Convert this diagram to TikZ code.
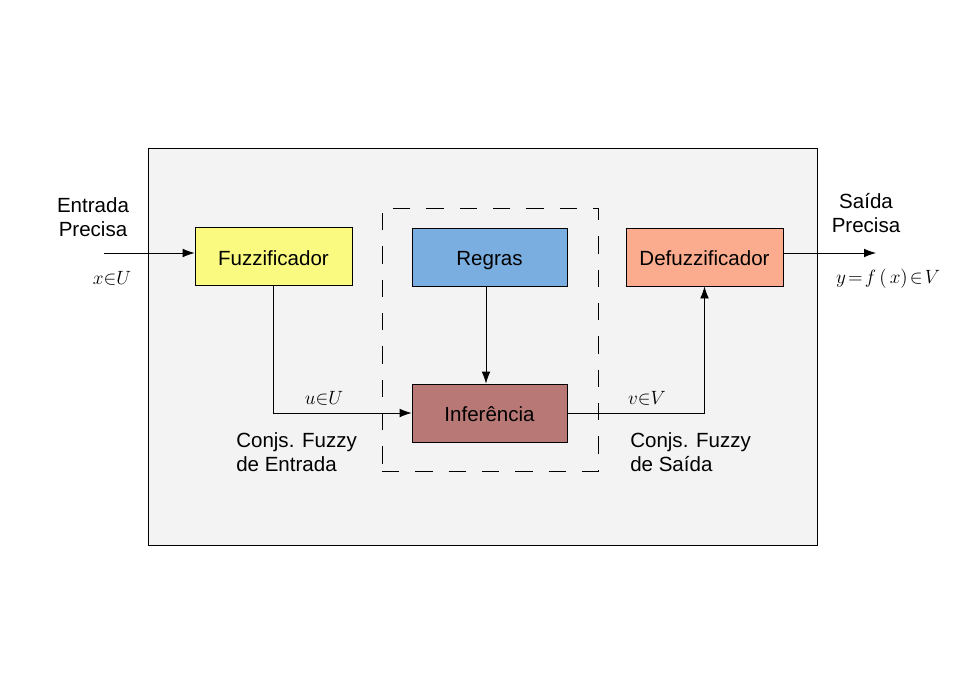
\documentclass[tikz,border=0pt]{standalone}
\usepackage{fontspec}
\setmainfont{Liberation Sans}
\usetikzlibrary{arrows.meta}
\begin{document}
\begin{tikzpicture}[x=0.75pt,y=-0.75pt,
  blk/.style={draw=black, line width=0.6pt, minimum width=155*0.75pt, minimum height=58*0.75pt, inner sep=0pt, text height=15pt, text depth=2pt, font=\fontsize{15.4}{18}\selectfont},
  conn/.style={draw=black, line width=0.6pt, -{Latex[length=9pt,width=6.5pt]}},
  lbl/.style={font=\fontsize{15.4}{17.5}\selectfont, inner sep=0pt, align=left},
  mlbl/.style={font=\fontsize{14}{16}\selectfont, inner sep=0pt}]
\useasboundingbox (0,0) rectangle (971,686);
\fill[white] (0,0) rectangle (971,686);
\node[draw=black, line width=0.6pt, fill={rgb,255:red,243;green,243;blue,243}, minimum width=669*0.75pt, minimum height=397*0.75pt, inner sep=0pt] (outer) at (482.5,346.5) {};
\node[draw=black, line width=0.6pt, dash pattern=on 13pt off 12pt, minimum width=216*0.75pt, minimum height=263*0.75pt, inner sep=0pt] (dash) at (490,339.5) {};
\node[blk, fill={rgb,255:red,250;green,250;blue,128}, minimum width=157*0.75pt] (fuzz) at (273.5,256.5) {Fuzzificador};
\node[blk, fill={rgb,255:red,122;green,174;blue,224}] (regras) at (489.5,257) {Regras};
\node[blk, fill={rgb,255:red,251;green,172;blue,143}, minimum width=157*0.75pt] (defuzz) at (704.5,257) {Defuzzificador};
\node[blk, fill={rgb,255:red,184;green,121;blue,118}] (inf) at (489.5,413) {Inferência};
\coordinate (in) at (104,253);
\coordinate (out) at (876,253);
\coordinate (rg) at (486,0);
\draw[conn] (in) -- (in -| fuzz.west);
\draw[conn] (defuzz.east |- out) -- (out);
\draw[conn] (fuzz.south) |- (inf.west);
\draw[conn] (rg |- regras.south) -- (rg |- inf.north);
\draw[conn] (inf.east) -| (defuzz.south);
\node[lbl, align=center] (entrada) at (93,217) {Entrada\\Precisa};
\node[mlbl] (xu) at (112,278) {$x{\in}U$};
\node[lbl, align=center] (saida) at (866,213) {Saída\\Precisa};
\node[mlbl] (yfx) at (888,279) {$y\!=\!f\,(\,x)\!\in\! V$};
\node[mlbl] (uu) at (324,398) {$u{\in}U$};
\node[mlbl] (vv) at (647,398) {$v{\in}V$};
\node[lbl, anchor=west] (ce) at (236,452) {Conjs. Fuzzy\\de Entrada};
\node[lbl, anchor=west] (cs) at (630,452) {Conjs. Fuzzy\\de Saída};
\end{tikzpicture}
\end{document}
